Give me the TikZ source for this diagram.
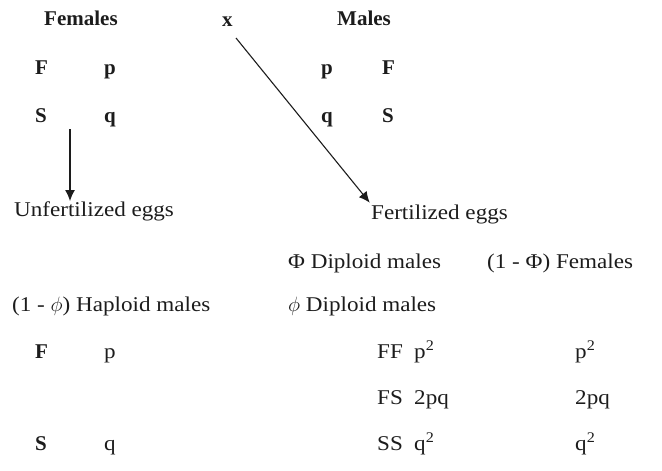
\documentclass[tikz,border=0pt]{standalone}
\usepackage{fontspec}
\setmainfont{Liberation Serif}
\newfontfamily\larga{Liberation Serif}[FakeStretch=1.1]
\usetikzlibrary{arrows.meta}
\definecolor{inchiostro}{HTML}{1C1C1C}

\begin{document}
\begin{tikzpicture}[x=1pt, y=-1pt,
        every node/.style={font=\fontsize{21}{24}\selectfont\larga, inner sep=0pt,
            anchor=base west, text=inchiostro},
        grassetto/.style={font=\fontsize{21}{24}\selectfont\bfseries},
        freccia/.style={-{Latex[length=11pt,width=10pt]}, line width=1.1pt,
            draw=inchiostro}]
        \useasboundingbox (0,0) rectangle (662,471);

        % Incrocio: femmine x maschi
        \node[grassetto] (femmine) at (44,25) {Females};
        \node[grassetto] (incrocio) at (222,26) {x};
        \node[grassetto] (maschi) at (337,25) {Males};

        % Alleli e frequenze dei genitori
        \foreach \n/\t/\x/\y in {
                fF/F/35/74,
                fp/p/104/74,
                fS/S/35/122,
                fq/q/104/122,
                mp/p/321/74,
                mF/F/382/74,
                mq/q/321/122,
                mS/S/382/122}{
                \node[grassetto] (\n) at (\x,\y) {\t};
            }

        % Uova
        \node (nonfec) at (14,216) {Unfertilized eggs};
        \node (fec) at (371,219) {Fertilized eggs};

        % Frecce
        \coordinate (coda1) at (70,129);
        \coordinate (coda2) at (236,38);
        \draw[freccia] (coda1) -- (coda1 |- nonfec.north);
        \draw[freccia, shorten >=2pt] (coda2) -- (fec.north west);

        % Classi della progenie
        \node (dipmaschi) at (288,268) {Φ Diploid males};
        \node (femmineF) at (487,268) {(1 - Φ) Females};
        \node (aplmaschi) at (12,311) {(1 - $\phi$) Haploid males};
        \node (dipphi) at (288,311) {$\phi$ Diploid males};

        % Maschi aploidi
        \node[grassetto] (aF) at (35,358) {F};
        \node (ap) at (104,358) {p};
        \node[grassetto] (aS) at (35,450) {S};
        \node (aq) at (104,450) {q};

        % Genotipi diploidi
        \foreach \n/\g/\a/\b/\y in {
                FF/FF/p\textsuperscript{2}/p\textsuperscript{2}/358,
                FS/FS/2pq/2pq/404,
                SS/SS/q\textsuperscript{2}/q\textsuperscript{2}/450}{
                \node (g\n) at (377,\y) {\g};
                \node (d\n) at (414,\y) {\a};
                \node (f\n) at (575,\y) {\b};
            }
    \end{tikzpicture}
\end{document}
